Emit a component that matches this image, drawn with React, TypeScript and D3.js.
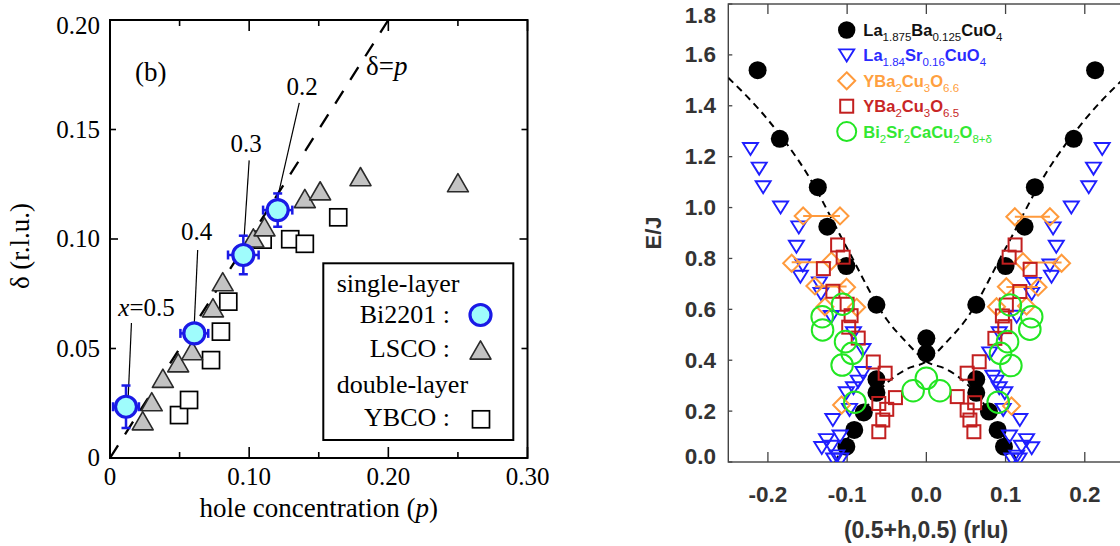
import React from 'react';
import * as d3 from 'd3';

// ---------------- Left panel data ----------------
const biP = [0.0115, 0.0606, 0.0958, 0.1205];
const biD = [0.0234, 0.0569, 0.0927, 0.1132];
const biPErr = [0.0093, 0.01, 0.011, 0.0105];
const biDErr = [0.0097, 0.004, 0.0088, 0.0076];
const biLabels = ['x=0.5', '0.4', '0.3', '0.2'];
const biLabelP = [0.0263, 0.0623, 0.0978, 0.138];
const biLabelD = [0.065, 0.0995, 0.1399, 0.1658];
const leadFromP = [0.0154, 0.063, 0.1, 0.136];
const leadFromD = [0.0616, 0.095, 0.1359, 0.1622];
const leadToP = [0.0131, 0.0606, 0.0964, 0.1203];
const leadToD = [0.028, 0.0616, 0.1009, 0.1186];

const lscoP = [0.0235, 0.03, 0.038, 0.049, 0.059, 0.074, 0.081, 0.103, 0.111, 0.14, 0.151, 0.18, 0.25];
const lscoD = [0.017, 0.0257, 0.0364, 0.0435, 0.049, 0.0686, 0.0805, 0.1005, 0.1056, 0.1185, 0.122, 0.1285, 0.1257];

const ybcoP = [0.0496, 0.0568, 0.0726, 0.0797, 0.085, 0.1097, 0.1295, 0.14, 0.164];
const ybcoD = [0.0196, 0.0265, 0.0447, 0.0577, 0.0714, 0.0997, 0.0999, 0.0978, 0.1099];

const xTickValsL = [0, 0.05, 0.1, 0.15, 0.2, 0.25, 0.3];
const xTickLabelsL = ['0', '0.10', '0.20', '0.30'];
const xTickLabelValsL = [0, 0.1, 0.2, 0.3];
const yTickValsL = [0, 0.05, 0.1, 0.15, 0.2];
const yTickLabelsL = ['0', '0.05', '0.10', '0.15', '0.20'];

// ---------------- Right panel data ----------------
const lbcoH = [-0.213, -0.185, -0.137, -0.125, -0.101, -0.063, -0.063, -0.063, -0.079, -0.091, -0.101, 0, 0,
  0.063, 0.063, 0.063, 0.079, 0.09, 0.098, 0.1, 0.124, 0.137, 0.186, 0.213];
const lbcoE = [1.54, 1.27, 1.08, 0.925, 0.77, 0.618, 0.325, 0.272, 0.195, 0.126, 0.06, 0.486, 0.427,
  0.618, 0.325, 0.272, 0.198, 0.126, 0.06, 0.77, 0.925, 1.08, 1.27, 1.54];

const lscoH = [-0.222, -0.211, -0.206, -0.184, -0.161, -0.164, -0.156, -0.159, -0.135, -0.133, -0.12, -0.092, -0.08,
  -0.08, -0.086, -0.092, -0.101, -0.097, -0.118, -0.109, -0.126, -0.132, -0.12, -0.113, -0.117, -0.108,
  0.222, 0.211, 0.205, 0.183, 0.16, 0.164, 0.156, 0.158, 0.135, 0.133, 0.114, 0.092, 0.08,
  0.084, 0.088, 0.092, 0.099, 0.097, 0.118, 0.105, 0.1265, 0.133, 0.12, 0.114, 0.117, 0.108];
const lscoE = [1.23, 1.153, 1.08, 1.0, 0.922, 0.846, 0.772, 0.728, 0.702, 0.66, 0.57, 0.506, 0.44,
  0.35, 0.316, 0.29, 0.27, 0.205, 0.165, 0.1, 0.086, 0.055, 0.06, 0.022, 0.01, 0.01,
  1.23, 1.153, 1.08, 1.0, 0.918, 0.846, 0.772, 0.728, 0.7, 0.66, 0.571, 0.506, 0.427,
  0.335, 0.316, 0.29, 0.27, 0.205, 0.165, 0.1, 0.086, 0.054, 0.06, 0.021, 0.01, 0.01];

const y66H = [-0.1555, -0.109, -0.17, -0.12, -0.1407, -0.1007, -0.128, -0.088, -0.107,
  0.1117, 0.156, 0.122, 0.1707, 0.101, 0.141, 0.0886, 0.1265, 0.1075];
const y66E = [0.967, 0.967, 0.781, 0.79, 0.692, 0.687, 0.61, 0.608, 0.224,
  0.964, 0.964, 0.787, 0.781, 0.689, 0.687, 0.61, 0.613, 0.22];
const y66BarLo = [-0.1555, -0.17, -0.1407, 0.1117, 0.122, 0.101];
const y66BarHi = [-0.109, -0.12, -0.1007, 0.156, 0.1707, 0.141];
const y66BarE = [0.967, 0.785, 0.69, 0.964, 0.784, 0.688];

const y65H = [-0.112, -0.105, -0.13, -0.118, -0.1, -0.095, -0.098, -0.086, -0.067, -0.052, -0.039, -0.06, -0.05, -0.055, -0.06,
  0.112, 0.1045, 0.131, 0.118, 0.101, 0.096, 0.099, 0.0865, 0.0667, 0.0515, 0.039, 0.061, 0.0515, 0.055, 0.06];
const y65E = [0.853, 0.805, 0.76, 0.671, 0.62, 0.575, 0.53, 0.487, 0.393, 0.349, 0.253, 0.23, 0.207, 0.165, 0.119,
  0.853, 0.805, 0.757, 0.67, 0.617, 0.574, 0.532, 0.486, 0.394, 0.349, 0.257, 0.233, 0.204, 0.165, 0.119];

const bsccoH = [-0.1058, -0.1315, -0.131, -0.102, -0.0936, -0.1063, -0.0902, -0.0167, 0, 0.017,
  0.106, 0.133, 0.1306, 0.1025, 0.0936, 0.1067, 0.0907];
const bsccoE = [0.62, 0.571, 0.519, 0.473, 0.427, 0.381, 0.235, 0.28, 0.329, 0.28,
  0.617, 0.571, 0.522, 0.473, 0.427, 0.379, 0.235];

const curveAH = [-0.25, -0.2, -0.15, -0.1, -0.05, -0.025, 0, 0.025, 0.05, 0.07, 0.09, 0.105, 0.115];
const curveAE = [1.51, 1.345, 1.13, 0.84, 0.56, 0.47, 0.395, 0.365, 0.31, 0.24, 0.14, 0.06, 0.0];
const curveBH = [-0.115, -0.105, -0.09, -0.07, -0.05, -0.025, 0, 0.025, 0.05, 0.1, 0.15, 0.2, 0.25];
const curveBE = [0.0, 0.06, 0.14, 0.24, 0.31, 0.365, 0.395, 0.47, 0.56, 0.84, 1.13, 1.345, 1.51];

const xTickValsR = [-0.2, -0.1, 0, 0.1, 0.2];
const xTickLabelsR = ['-0.2', '-0.1', '0.0', '0.1', '0.2'];
const yTickValsR = [0, 0.2, 0.4, 0.6, 0.8, 1.0, 1.2, 1.4, 1.6, 1.8];
const yTickLabelsR = ['0.0', '0.2', '0.4', '0.6', '0.8', '1.0', '1.2', '1.4', '1.6', '1.8'];

type Part = [string, boolean];
const legendR: Part[][] = [
  [['La', false], ['1.875', true], ['Ba', false], ['0.125', true], ['CuO', false], ['4', true]],
  [['La', false], ['1.84', true], ['Sr', false], ['0.16', true], ['CuO', false], ['4', true]],
  [['YBa', false], ['2', true], ['Cu', false], ['3', true], ['O', false], ['6.6', true]],
  [['YBa', false], ['2', true], ['Cu', false], ['3', true], ['O', false], ['6.5', true]],
  [['Bi', false], ['2', true], ['Sr', false], ['2', true], ['CaCu', false], ['2', true], ['O', false], ['8+δ', true]],
];
const legendRColors = ['#111111', '#2a2aff', '#ffa040', '#c82626', '#33e833'];

// ---------------- Scales ----------------
const xL = d3.scaleLinear().domain([0, 0.3]).range([110, 527.5]);
const yL = d3.scaleLinear().domain([0, 0.2]).range([458, 20]);
const xR = d3.scaleLinear().domain([-0.25, 0.25]).range([728.3, 1124.4]);
const yR = d3.scaleLinear().domain([0, 1.8]).range([462, 4]);

const serif = "'Liberation Serif', 'Times New Roman', serif";
const sans = "'Liberation Sans', Arial, Helvetica, sans-serif";

const triUp = (cx: number, cy: number, s: number) => {
  const h = (s * Math.sqrt(3)) / 2;
  return `M${cx},${cy - h / 2}L${cx + s / 2},${cy + h / 2}L${cx - s / 2},${cy + h / 2}Z`;
};
const triDown = (cx: number, cy: number, w: number, h: number) =>
  `M${cx - w / 2},${cy - h / 2}L${cx + w / 2},${cy - h / 2}L${cx},${cy + h / 2}Z`;
const diamond = (cx: number, cy: number, r: number) =>
  `M${cx},${cy - r}L${cx + r},${cy}L${cx},${cy + r}L${cx - r},${cy}Z`;

const BLUE = '#1a1ae6';
const CYAN = '#9ffcfc';
const TRI_BLUE = '#1f1fff';
const ORANGE = '#ff9a3c';
const RED = '#c21f1f';
const GREEN = '#22e622';

function LeftPanel() {
  const dashed = d3.line<number>().x((v) => xL(v)).y((v) => yL(v))([0, 0.2]) || '';
  return (
    <g>
      <rect x={xL(0)} y={yL(0.2)} width={xL(0.3) - xL(0)} height={yL(0) - yL(0.2)} fill="none" stroke="#000" strokeWidth={2} />
      {xTickValsL.map((v, i) => {
        const len = i % 2 === 0 ? 11 : 6;
        return (
          <g key={'xt' + i}>
            <line x1={xL(v)} x2={xL(v)} y1={yL(0)} y2={yL(0) - len} stroke="#000" strokeWidth={1.6} />
            <line x1={xL(v)} x2={xL(v)} y1={yL(0.2)} y2={yL(0.2) + len} stroke="#000" strokeWidth={1.6} />
          </g>
        );
      })}
      {yTickValsL.map((v, i) => {
        const len = i % 2 === 0 ? 8 : 6;
        return (
          <g key={'yt' + i}>
            <line x1={xL(0)} x2={xL(0) + len} y1={yL(v)} y2={yL(v)} stroke="#000" strokeWidth={1.6} />
            <line x1={xL(0.3)} x2={xL(0.3) - len} y1={yL(v)} y2={yL(v)} stroke="#000" strokeWidth={1.6} />
          </g>
        );
      })}
      {xTickLabelValsL.map((v, i) => (
        <text key={'xl' + i} x={xL(v)} y={485} textAnchor="middle" fontFamily={serif} fontSize={25}>{xTickLabelsL[i]}</text>
      ))}
      {yTickValsL.map((v, i) => (
        <text key={'yl' + i} x={100} y={Math.max(yL(v), 26.3) + 8} textAnchor="end" fontFamily={serif} fontSize={25}>{yTickLabelsL[i]}</text>
      ))}
      <text x={xL(0.15)} y={517} textAnchor="middle" fontFamily={serif} fontSize={27}>
        hole concentration (<tspan fontStyle="italic">p</tspan>)
      </text>
      <text transform="translate(29,246) rotate(-90)" textAnchor="middle" fontFamily={serif} fontSize={27}>δ (r.l.u.)</text>
      <text x={135} y={81} fontFamily={serif} fontSize={27}>(b)</text>
      <text x={366} y={75} fontFamily={serif} fontSize={27}>δ=<tspan fontStyle="italic">p</tspan></text>

      <path d={dashed} fill="none" stroke="#000" strokeWidth={2.3} strokeDasharray="15 13" />

      {biLabels.map((t, i) => (
        <g key={'lab' + i}>
          <line x1={xL(leadFromP[i])} y1={yL(leadFromD[i])} x2={xL(leadToP[i])} y2={yL(leadToD[i])} stroke="#000" strokeWidth={1.2} />
          <text x={xL(biLabelP[i])} y={yL(biLabelD[i])} textAnchor="middle" fontFamily={serif} fontSize={25}>
            {i === 0 ? (<><tspan fontStyle="italic">x</tspan>=0.5</>) : t}
          </text>
        </g>
      ))}

      {ybcoP.map((p, i) => (
        <rect key={'sq' + i} x={xL(p) - 8.5} y={yL(ybcoD[i]) - 8.5} width={17} height={17} fill="#fff" stroke="#000" strokeWidth={1.7} />
      ))}
      {lscoP.map((p, i) => (
        <path key={'tr' + i} d={triUp(xL(p), yL(lscoD[i]), 21)} fill="#c3c3c3" stroke="#2a2a2a" strokeWidth={1.6} strokeLinejoin="round" />
      ))}
      {biP.map((p, i) => {
        const cx = xL(p);
        const cy = yL(biD[i]);
        const x0 = xL(p - biPErr[i]);
        const x1 = xL(p + biPErr[i]);
        const y0 = yL(biD[i] - biDErr[i]);
        const y1 = yL(biD[i] + biDErr[i]);
        return (
          <g key={'bi' + i}>
            <line x1={x0} x2={x1} y1={cy} y2={cy} stroke={BLUE} strokeWidth={2.5} />
            <line x1={cx} x2={cx} y1={y0} y2={y1} stroke={BLUE} strokeWidth={2.5} />
            <line x1={x0} x2={x0} y1={cy - 4.5} y2={cy + 4.5} stroke={BLUE} strokeWidth={2.5} />
            <line x1={x1} x2={x1} y1={cy - 4.5} y2={cy + 4.5} stroke={BLUE} strokeWidth={2.5} />
            <line x1={cx - 4.5} x2={cx + 4.5} y1={y0} y2={y0} stroke={BLUE} strokeWidth={2.5} />
            <line x1={cx - 4.5} x2={cx + 4.5} y1={y1} y2={y1} stroke={BLUE} strokeWidth={2.5} />
            <circle cx={cx} cy={cy} r={10.5} fill={CYAN} stroke={BLUE} strokeWidth={3.2} />
          </g>
        );
      })}

      <rect x={323.3} y={263.3} width={190} height={176.7} fill="#fff" stroke="#000" strokeWidth={2} />
      <text x={336.7} y={291.7} fontFamily={serif} fontSize={26}>single-layer</text>
      <text x={450} y={323.3} textAnchor="end" fontFamily={serif} fontSize={26}>Bi2201 :</text>
      <text x={450} y={356.7} textAnchor="end" fontFamily={serif} fontSize={26}>LSCO :</text>
      <text x={336.7} y={393.3} fontFamily={serif} fontSize={26}>double-layer</text>
      <text x={450} y={426.3} textAnchor="end" fontFamily={serif} fontSize={26}>YBCO :</text>
      <circle cx={480.5} cy={315} r={10.5} fill={CYAN} stroke={BLUE} strokeWidth={3.2} />
      <path d={triUp(480.5, 350, 21)} fill="#c3c3c3" stroke="#2a2a2a" strokeWidth={1.6} strokeLinejoin="round" />
      <rect x={481 - 8.5} y={419.3 - 8.5} width={17} height={17} fill="#fff" stroke="#000" strokeWidth={1.7} />
    </g>
  );
}

function RightPanel() {
  const line = d3.line<number>().curve(d3.curveMonotoneX);
  const pathA = line.x((_, i) => xR(curveAH[i])).y((v) => yR(v))(curveAE) || '';
  const pathB = line.x((_, i) => xR(curveBH[i])).y((v) => yR(v))(curveBE) || '';
  const left = xR(-0.25);
  const right = xR(0.25);
  const top = yR(1.8);
  const bottom = yR(0);
  return (
    <g>
      <defs>
        <clipPath id="clipR">
          <rect x={left} y={top} width={right - left} height={bottom - top} />
        </clipPath>
      </defs>
      <rect x={left} y={top} width={right - left} height={bottom - top} fill="none" stroke="#444" strokeWidth={1.4} />
      {xTickValsR.map((v, i) => (
        <g key={'rxt' + i}>
          <line x1={xR(v)} x2={xR(v)} y1={bottom} y2={bottom - 10} stroke="#444" strokeWidth={1.3} />
          <line x1={xR(v)} x2={xR(v)} y1={top} y2={top + 10} stroke="#444" strokeWidth={1.3} />
          <text x={xR(v)} y={502} textAnchor="middle" fontFamily={sans} fontWeight="bold" fontSize={22.5} fill="#333">{xTickLabelsR[i]}</text>
        </g>
      ))}
      {yTickValsR.map((v, i) => (
        <g key={'ryt' + i}>
          <line x1={left} x2={left + 4} y1={yR(v)} y2={yR(v)} stroke="#444" strokeWidth={1.3} />
          <line x1={right} x2={right - 4} y1={yR(v)} y2={yR(v)} stroke="#444" strokeWidth={1.3} />
          <text x={716} y={Math.min(Math.max(yR(v), 15.8), 456) + 7.5} textAnchor="end" fontFamily={sans} fontWeight="bold" fontSize={22.5} fill="#333">{yTickLabelsR[i]}</text>
        </g>
      ))}
      <text x={926} y={538} textAnchor="middle" fontFamily={sans} fontWeight="bold" fontSize={23} fill="#333">(0.5+h,0.5) (rlu)</text>
      <text transform="translate(661,233) rotate(-90)" textAnchor="middle" fontFamily={sans} fontWeight="bold" fontSize={22} fill="#333">E/J</text>

      <g clipPath="url(#clipR)">
        <path d={pathA} fill="none" stroke="#000" strokeWidth={2} strokeDasharray="7 5" />
        <path d={pathB} fill="none" stroke="#000" strokeWidth={2} strokeDasharray="7 5" />
        {lbcoH.map((h, i) => (
          <circle key={'lb' + i} cx={xR(h)} cy={yR(lbcoE[i])} r={9} fill="#000" />
        ))}
        {lscoH.map((h, i) => (
          <path key={'ls' + i} d={triDown(xR(h), yR(lscoE[i]), 15, 12)} fill="none" stroke={TRI_BLUE} strokeWidth={1.9} />
        ))}
        {y66BarE.map((e, i) => (
          <line key={'ob' + i} x1={xR(y66BarLo[i])} x2={xR(y66BarHi[i])} y1={yR(e)} y2={yR(e)} stroke={ORANGE} strokeWidth={2} />
        ))}
        {y66H.map((h, i) => (
          <path key={'y6' + i} d={diamond(xR(h), yR(y66E[i]), 8.5)} fill="none" stroke={ORANGE} strokeWidth={2} />
        ))}
        {y65H.map((h, i) => (
          <rect key={'y5' + i} x={xR(h) - 6.5} y={yR(y65E[i]) - 6.5} width={13} height={13} fill="none" stroke={RED} strokeWidth={2} />
        ))}
        {bsccoH.map((h, i) => (
          <circle key={'bs' + i} cx={xR(h)} cy={yR(bsccoE[i])} r={10.8} fill="none" stroke={GREEN} strokeWidth={2} />
        ))}
      </g>

      {legendR.map((parts, r) => {
        const cy = 30 + r * 25.4;
        const mx = 846.7;
        const color = legendRColors[r];
        let marker: React.ReactNode = null;
        if (r === 0) marker = <circle cx={mx} cy={cy} r={8.7} fill="#000" />;
        if (r === 1) marker = <path d={triDown(mx, cy, 15, 12)} fill="none" stroke={TRI_BLUE} strokeWidth={1.9} />;
        if (r === 2) marker = <path d={diamond(mx, cy, 8.5)} fill="none" stroke={ORANGE} strokeWidth={2} />;
        if (r === 3) marker = <rect x={mx - 6.5} y={cy - 6.5} width={13} height={13} fill="none" stroke={RED} strokeWidth={2} />;
        if (r === 4) marker = <circle cx={mx} cy={cy} r={9.5} fill="none" stroke={GREEN} strokeWidth={2} />;
        return (
          <g key={'lg' + r}>
            {marker}
            <text x={863.3} y={cy + 6} fontFamily={sans} fill={color}>
              {parts.map(([t, sub], i) => {
                const prevSub = i > 0 ? parts[i - 1][1] : false;
                const dy = sub && !prevSub ? 5 : !sub && prevSub ? -5 : 0;
                return (
                  <tspan key={i} dy={dy} fontSize={sub ? 11.5 : 16.5} fontWeight={sub ? 'normal' : 'bold'}>{t}</tspan>
                );
              })}
            </text>
          </g>
        );
      })}
    </g>
  );
}

export default function App() {
  return (
    <svg width={1120} height={546} viewBox="0 0 1120 546" style={{ position: 'absolute', left: 0, top: 0, background: '#fff' }}>
      <rect x={0} y={0} width={1120} height={546} fill="#fff" />
      <LeftPanel />
      <RightPanel />
    </svg>
  );
}
